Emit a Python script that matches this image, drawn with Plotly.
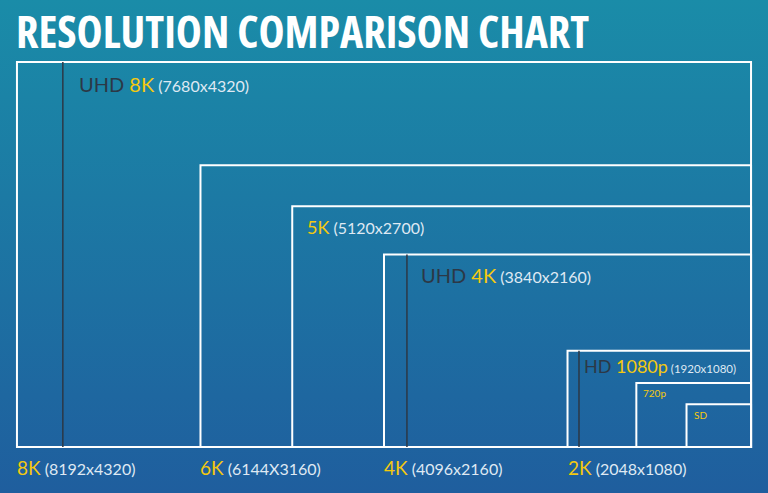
import plotly.graph_objects as go

W, H = 768, 493

# screen formats (width x height in pixels), all anchored at the bottom-right corner
rect_names = ["8K", "6K", "5K", "4K", "2K", "720p", "SD"]
rect_w = [8192, 6144, 5120, 4096, 2048, 1280, 720]
rect_h = [4320, 3160, 2700, 2160, 1080, 720, 480]

# UHD / HD formats drawn as divider lines
line_names = ["UHD 8K", "UHD 4K", "HD 1080p"]
line_w = [7680, 3840, 1920]
line_h = [4320, 2160, 1080]

# labels under the chart
bottom_names = ["8K", "6K", "4K", "2K"]
bottom_dims = ["(8192x4320)", "(6144X3160)", "(4096x2160)", "(2048x1080)"]
bottom_w = [8192, 6144, 4096, 2048]

# labels inside the boxes: (dark prefix, yellow name, dims)
inner_prefix = ["UHD ", "", "UHD ", "HD ", "", ""]
inner_name = ["8K", "5K", "4K", "1080p", "720p", "SD"]
inner_dims = ["(7680x4320)", "(5120x2700)", "(3840x2160)", "(1920x1080)", "", ""]
inner_w = [7680, 5120, 3840, 1920, 1280, 720]
inner_h = [4320, 2700, 2160, 1080, 720, 480]

MAXW = 8192
TOP_C, BOT_C = "#1a8ca8", "#1f5e9e"
DARK, YELLOW, LIGHT = "#2c3846", "#f4c90f", "#dfe9f3"
FONT = "Lato"

fig = go.Figure()

# gradient background on a full-figure helper subplot
fig.add_trace(go.Scatter(
    x=[0, 1, 1, 0, 0], y=[0, 0, 1, 1, 0], mode="lines", line=dict(width=0),
    fill="toself", fillgradient=dict(type="vertical", colorscale=[[0, BOT_C], [1, TOP_C]]),
    xaxis="x2", yaxis="y2", hoverinfo="skip", showlegend=False,
))
fig.add_trace(go.Scatter(x=[None], y=[None], showlegend=False))

for w, h in zip(rect_w, rect_h):
    fig.add_shape(type="rect", x0=MAXW - w, x1=MAXW, y0=0, y1=h,
                  line=dict(color="white", width=2))

for w, h in zip(line_w, line_h):
    fig.add_shape(type="line", x0=MAXW - w, x1=MAXW - w, y0=0, y1=h,
                  line=dict(color=DARK, width=1.5))


def rich(prefix, name, dims, s1, s2):
    t = ""
    if prefix:
        t += f"<span style='color:{DARK};font-size:{s1}px'>{prefix}</span>"
    t += f"<span style='color:{YELLOW};font-size:{s1}px'>{name}</span>"
    if dims:
        t += f"<span style='color:{LIGHT};font-size:{s2}px'> {dims}</span>"
    return t


sizes = [(20, 16), (18, 16), (20, 16), (18, 11.5), (10, 10), (10, 10)]
shifts = [(14, -22), (13, -21), (12, -20), (3, -15), (5, -10), (5, -11)]
for p, n, d, w, h, (s1, s2), (dx, dy) in zip(inner_prefix, inner_name, inner_dims,
                                             inner_w, inner_h, sizes, shifts):
    fig.add_annotation(x=MAXW - w, y=h, text=rich(p, n, d, s1, s2), showarrow=False,
                       xanchor="left", yanchor="middle", xshift=dx, yshift=dy,
                       font=dict(family=FONT, size=s1))

for n, d, w in zip(bottom_names, bottom_dims, bottom_w):
    fig.add_annotation(x=MAXW - w, y=0, text=rich("", n, d, 19, 16), showarrow=False,
                       xanchor="left", yanchor="middle", xshift=-2, yshift=-20,
                       font=dict(family=FONT, size=19))

# title in a condensed bold face
fig.add_annotation(x=14 / W, y=1 - 31 / H, xref="paper", yref="paper",
                   text="<span style='font-stretch:condensed'>RESOLUTION COMPARISON CHART</span>",
                   showarrow=False, xanchor="left", yanchor="middle",
                   font=dict(family="Open Sans", size=44, color="white", weight="bold"))

fig.update_layout(
    width=W, height=H,
    margin=dict(l=0, r=0, t=0, b=0),
    paper_bgcolor=BOT_C, plot_bgcolor="rgba(0,0,0,0)",
    showlegend=False,
    xaxis=dict(domain=[8 / W, 760 / W], range=[-100, 8292], visible=False),
    yaxis=dict(domain=[37 / H, 440 / H], range=[-100, 4420], visible=False),
    xaxis2=dict(domain=[0, 1], range=[0, 1], visible=False, anchor="y2"),
    yaxis2=dict(domain=[0, 1], range=[0, 1], visible=False, anchor="x2"),
)

fig.write_html("out.html", post_script="document.body.style.margin='0';",
               config={"displayModeBar": False})
